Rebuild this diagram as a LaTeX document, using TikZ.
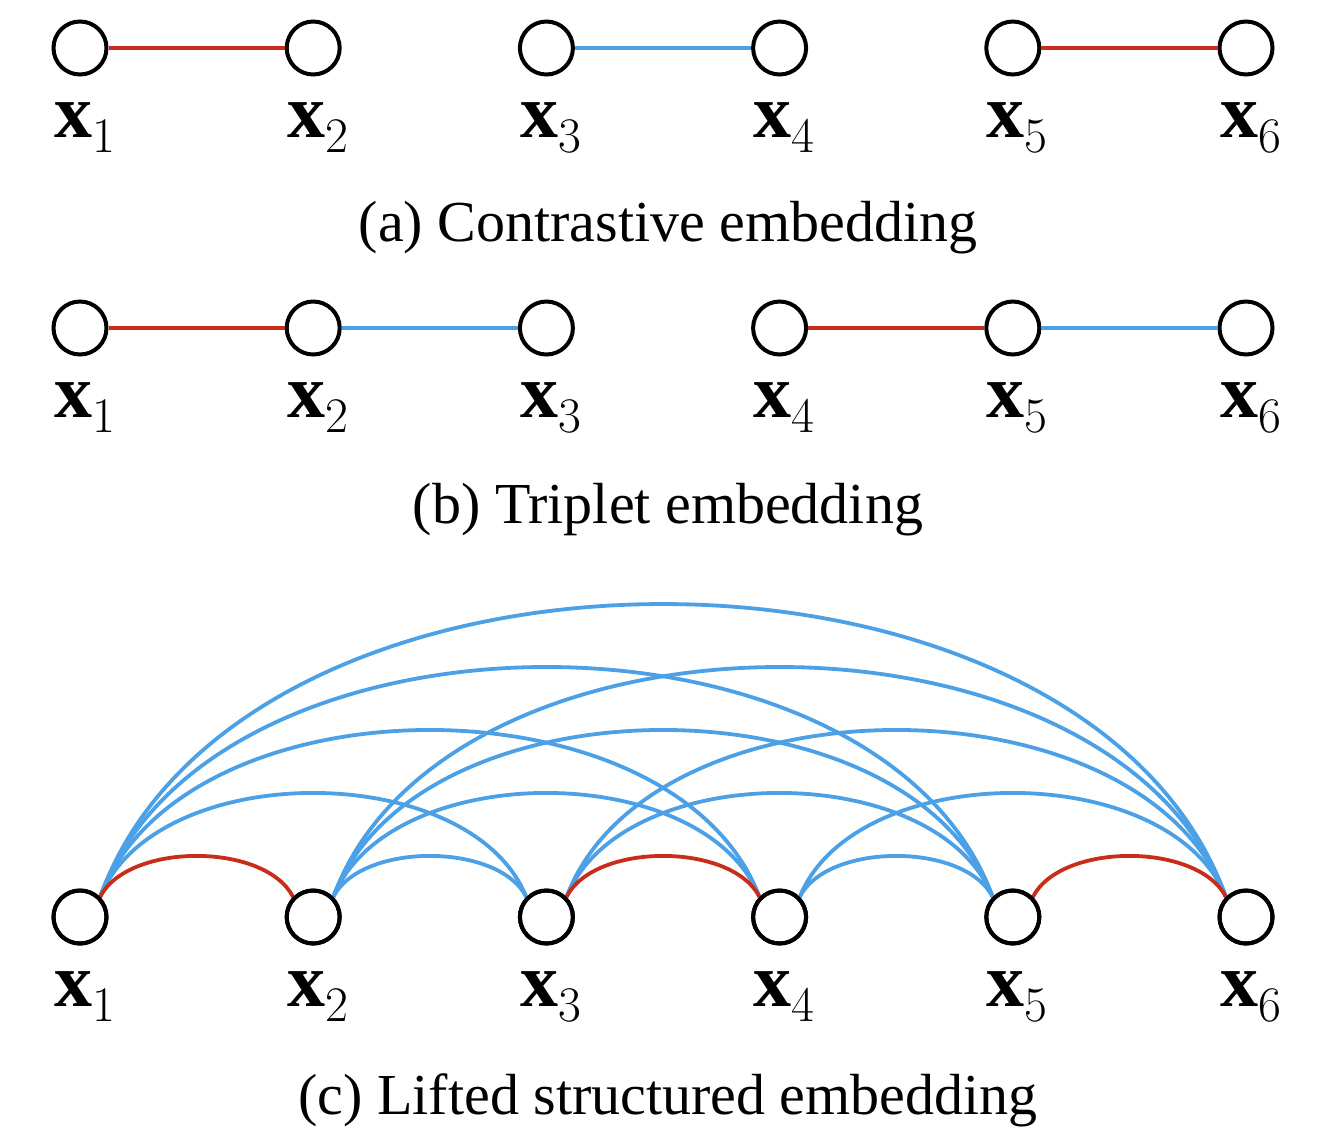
\documentclass[tikz,border=0pt]{standalone}
\usepackage{fontspec}
\setmainfont{Liberation Serif}
\usetikzlibrary{calc}
\definecolor{myred}{RGB}{200,45,25}
\definecolor{myblue}{RGB}{75,160,230}
\begin{document}
\begin{tikzpicture}[x=0.5pt,y=0.5pt,
  pt/.style={circle,draw=black,line width=2pt,minimum size=26.5pt,inner sep=0pt,fill=white},
  lab/.style={font=\fontsize{38}{40}\selectfont,inner sep=0pt},
  captxt/.style={font=\fontsize{29}{32}\selectfont,inner sep=0pt},
  ed/.style={line width=1.9pt}]
\useasboundingbox (0,0) rectangle (1320,-1136);
\foreach \r/\y in {a/48,b/328,c/917}{
  \foreach \i in {1,...,6}{
    \pgfmathsetmacro\xx{80+233.2*(\i-1)}
    \node[pt] (\r\i) at (\xx,-\y) {};
    \node[lab] (l\r\i) at (\xx+5,-\y-80) {$\mathbf{x}_\i$};
  }
}
\node[captxt] (capa) at (668,-228) {(a) Contrastive embedding};
\node[captxt] (capb) at (668,-510) {(b) Triplet embedding};
\node[captxt] (capc) at (668,-1100) {(c) Lifted structured embedding};
% (a)
\draw[ed,myred] (a1) -- (a2);
\draw[ed,myblue] (a3) -- (a4);
\draw[ed,myred] (a5) -- (a6);
% (b)
\draw[ed,myred] (b1) -- (b2);
\draw[ed,myblue] (b2) -- (b3);
\draw[ed,myred] (b4) -- (b5);
\draw[ed,myblue] (b5) -- (b6);
% (c)
\newcommand\myarc[3]{%
  \pgfmathsetmacro\sp{233.2*(#2-#1)}%
  \pgfmathsetmacro\dx{0.12*\sp}%
  \pgfmathsetmacro\dy{4/3*(0.27*\sp-22)}%
  \draw[ed,#3] (c#1.45) .. controls ($(c#1.45)+(\dx,\dy)$) and ($(c#2.135)+(-\dx,\dy)$) .. (c#2.135);}
\foreach \i/\j in {1/3,1/4,1/5,1/6,2/3,2/4,2/5,2/6,3/5,3/6,4/5,4/6}{\myarc{\i}{\j}{myblue}}
\foreach \i/\j in {1/2,3/4,5/6}{\myarc{\i}{\j}{myred}}
\foreach \i in {1,...,6}{\node[pt,fill=none] at (c\i) {};}
\end{tikzpicture}
\end{document}
